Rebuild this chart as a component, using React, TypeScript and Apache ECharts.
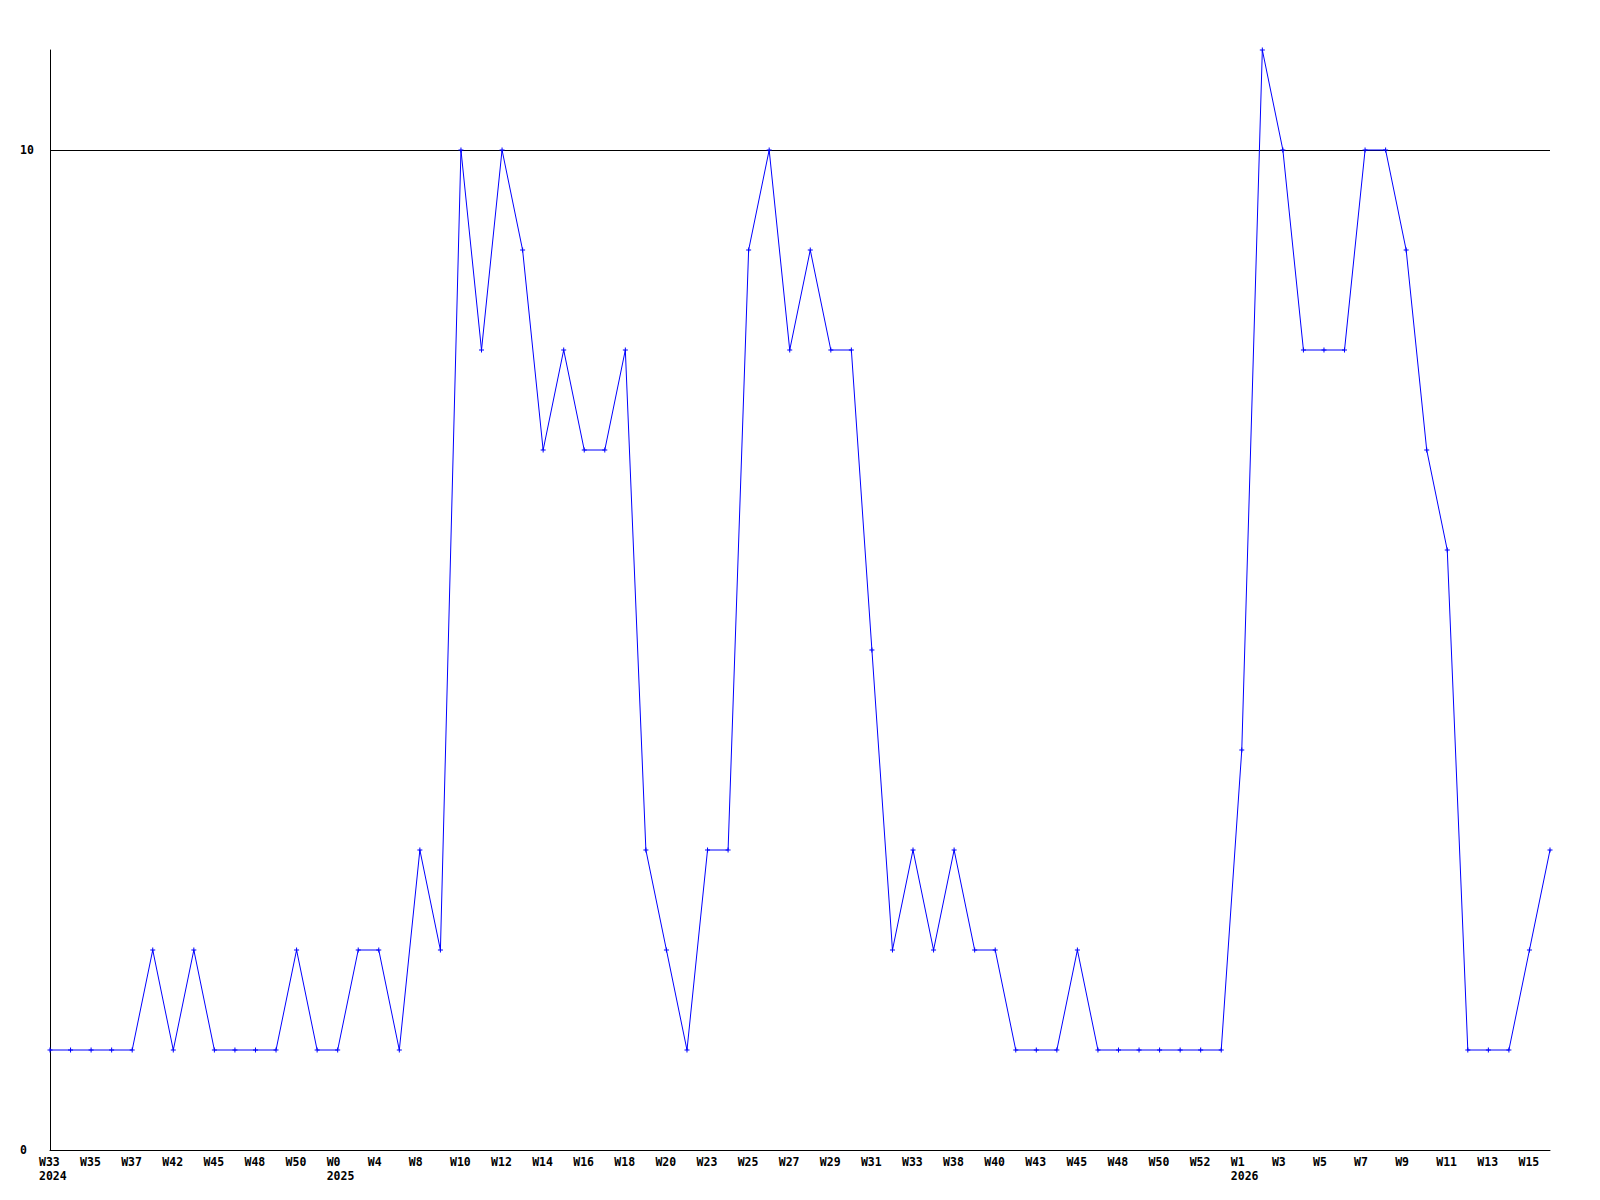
import React, { useEffect, useRef } from "react";
import * as echarts from "echarts";

const weeks = [
  "W33", "W34", "W35", "W36", "W37", "W40", "W42", "W44", "W45", "W47",
  "W48", "W49", "W50", "W51", "W0", "W2", "W4", "W6", "W8", "W9",
  "W10", "W11", "W12", "W13", "W14", "W15", "W16", "W17", "W18", "W19",
  "W20", "W22", "W23", "W24", "W25", "W26", "W27", "W28", "W29", "W30",
  "W31", "W32", "W33", "W35", "W38", "W39", "W40", "W41", "W43", "W44",
  "W45", "W46", "W48", "W49", "W50", "W51", "W52", "W0", "W1", "W2",
  "W3", "W4", "W5", "W6", "W7", "W8", "W9", "W10", "W11", "W12",
  "W13", "W14", "W15", "W16",
];

const yearLabels: Record<number, string> = { 0: "2024", 14: "2025", 58: "2026" };

const counts = [
  1, 1, 1, 1, 1, 2, 1, 2, 1, 1,
  1, 1, 2, 1, 1, 2, 2, 1, 3, 2,
  10, 8, 10, 9, 7, 8, 7, 7, 8, 3,
  2, 1, 3, 3, 9, 10, 8, 9, 8, 8,
  5, 2, 3, 2, 3, 2, 2, 1, 1, 1,
  2, 1, 1, 1, 1, 1, 1, 1, 4, 11,
  10, 8, 8, 8, 10, 10, 9, 7, 6, 1,
  1, 1, 2, 3,
];

const yTicks = [0, 10];
const refLine = 10;

export default function App() {
  const ref = useRef<HTMLDivElement>(null);
  useEffect(() => {
    document.body.style.margin = "0";
    const chart = echarts.init(ref.current!, null, { renderer: "svg" });
    const font = "'DejaVu Sans Mono', monospace";
    chart.setOption({
      animation: false,
      backgroundColor: "#ffffff",
      grid: { left: 50, right: 50, top: 50, bottom: 50, containLabel: false },
      xAxis: {
        type: "category",
        data: weeks,
        boundaryGap: false,
        axisLine: { show: true, lineStyle: { color: "#000", width: 1 } },
        axisTick: { show: false },
        splitLine: { show: false },
        axisLabel: {
          interval: (i: number) => i % 2 === 0,
          margin: 5,
          formatter: (v: string, i: number) =>
            yearLabels[i] ? `{a|${v}}\n{a|${yearLabels[i]}}` : `{a|${v}}`,
          rich: {
            a: {
              width: 22,
              align: "left",
              fontFamily: font,
              fontWeight: "bold",
              fontSize: 11.5,
              color: "#000",
              lineHeight: 14,
            },
          },
        },
      },
      yAxis: {
        type: "value",
        min: 0,
        max: 11,
        interval: 10,
        axisLine: { show: true, lineStyle: { color: "#000", width: 1 } },
        axisTick: { show: false },
        splitLine: { show: false },
        axisLabel: {
          margin: 30,
          align: "left",
          fontFamily: font,
          fontWeight: "bold",
          fontSize: 11.5,
          color: "#000",
          formatter: (v: number) => (yTicks.includes(v) ? String(v) : ""),
        },
      },
      series: [
        {
          type: "line",
          data: counts,
          symbol: "path://M2,0H3V2H5V3H3V5H2V3H0V2H2Z",
          symbolSize: 5,
          showAllSymbol: true,
          itemStyle: { color: "#0000ff" },
          lineStyle: { color: "#0000ff", width: 1 },
          z: 3,
          markLine: {
            silent: true,
            symbol: "none",
            label: { show: false },
            lineStyle: { color: "#000", width: 1, type: "solid" },
            data: [{ yAxis: refLine }],
            z: 1,
          },
        },
      ],
    });
    return () => chart.dispose();
  }, []);
  return <div ref={ref} style={{ width: 1600, height: 1200 }} />;
}
